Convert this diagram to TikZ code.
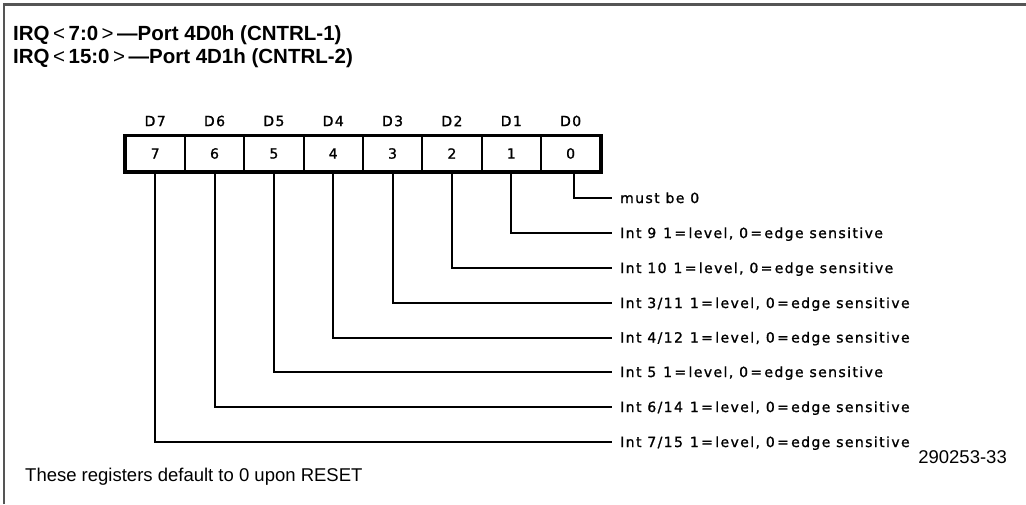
\documentclass[tikz,border=0pt]{standalone}
\usepackage{fontspec}
\setmainfont{Liberation Sans}
\newfontfamily\plotfont[LetterSpace=10,FakeBold=1.2]{DejaVu Sans}
\definecolor{framegray}{HTML}{555555}
\newcommand{\ltgap}{\hspace{3.5pt}}
\begin{document}
\begin{tikzpicture}[x=1pt,y=-1pt,
  frameline/.style={draw=framegray,line width=2.5pt},
  cell/.style={draw,line width=2pt,minimum width=59.35pt,minimum height=35pt,inner sep=0pt,font=\plotfont\fontsize{14}{16}\selectfont},
  dlab/.style={inner sep=0pt,font=\plotfont\fontsize{14}{16}\selectfont},
  lab/.style={anchor=west,inner xsep=8pt,inner ysep=0pt,text height=10pt,text depth=0pt,font=\plotfont\fontsize{14}{16}\selectfont},
  conn/.style={draw,line width=2pt},
  title/.style={anchor=west,inner sep=0pt,font=\bfseries\fontsize{20.5}{24}\selectfont},
  note/.style={inner sep=0pt,font=\fontsize{18.5}{22}\selectfont}]
\useasboundingbox (0,0) rectangle (1026,504);
\draw[frameline] (4,504) -- (4,4.5) -- (1026,4.5);
\node[title] (title1) at (13,35.5) {IRQ\ltgap\textmd{<}\ltgap 7:0\ltgap\textmd{>}\ltgap —Port 4D0h (CNTRL-1)};
\node[title] (title2) at (13,58) {IRQ\ltgap\textmd{<}\ltgap 15:0\ltgap\textmd{>}\ltgap —Port 4D1h (CNTRL-2)};
\foreach \i in {0,...,7}{
  \node[cell] (c\i) at ({155.175+59.35*(7-\i)},153.5) {\i};
  \node[dlab] (d\i) at ({155.175+59.35*(7-\i)},121) {D\i};
}
\draw[line width=3pt] (c7.north west) rectangle (c0.south east);
\node[lab] (t0) at (612,198) {must be 0};
\node[lab] (t1) at (612,233) {Int 9\enspace 1\,=\,level, 0\,=\,edge sensitive};
\node[lab] (t2) at (612,268) {Int 10\enspace 1\,=\,level, 0\,=\,edge sensitive};
\node[lab] (t3) at (612,303) {Int 3/11\enspace 1\,=\,level, 0\,=\,edge sensitive};
\node[lab] (t4) at (612,337.5) {Int 4/12\enspace 1\,=\,level, 0\,=\,edge sensitive};
\node[lab] (t5) at (612,372) {Int 5\enspace 1\,=\,level, 0\,=\,edge sensitive};
\node[lab] (t6) at (612,407) {Int 6/14\enspace 1\,=\,level, 0\,=\,edge sensitive};
\node[lab] (t7) at (612,442) {Int 7/15\enspace 1\,=\,level, 0\,=\,edge sensitive};
\draw[conn] ([xshift=3pt]c0.south) |- (t0.west);
\foreach \i in {1,...,7}{
  \draw[conn] (c\i.south) |- (t\i.west);
}
\node[note,anchor=east] (fig) at (1007,457) {290253-33};
\node[note,anchor=west] (foot) at (25,477) {These registers default to 0 upon RESET};
\end{tikzpicture}
\end{document}
